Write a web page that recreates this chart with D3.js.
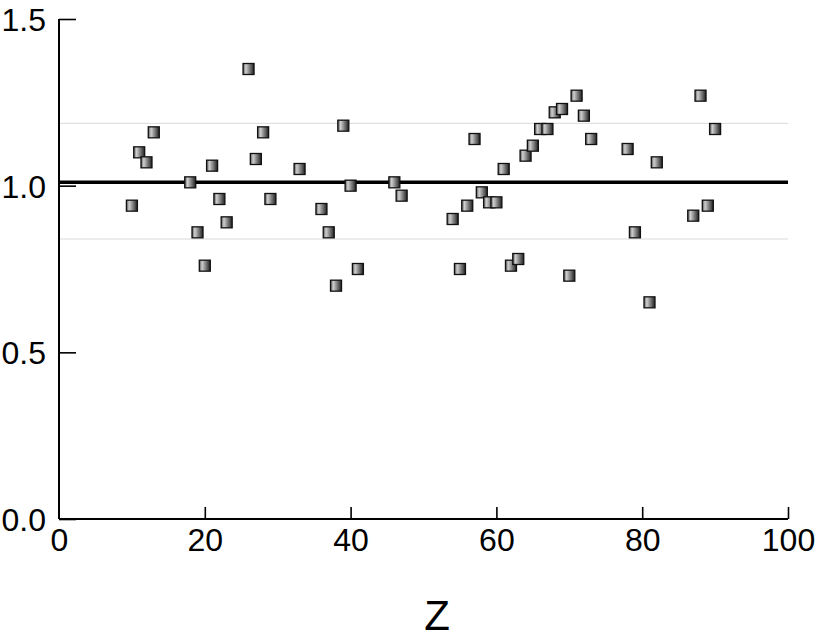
<!DOCTYPE html>
<html>
<head>
<meta charset="utf-8">
<script src="https://cdn.jsdelivr.net/npm/d3@7"></script>
<style>
  html, body { margin: 0; padding: 0; background: #fff; }
  svg { display: block; font-family: "Liberation Sans", Arial, sans-serif; }
</style>
</head>
<body>
<svg id="chart" width="817" height="639"></svg>
<script>
// Data
const zValues = [10, 11, 12, 13, 18, 19, 20, 21, 22, 23, 26, 27, 28, 29, 33, 36, 37, 38, 39, 40,
                 41, 46, 47, 54, 55, 56, 57, 58, 59, 60, 61, 62, 63, 64, 65, 66, 67, 68, 69, 70,
                 71, 72, 73, 78, 79, 81, 82, 87, 88, 89, 90];
const ratioValues = [0.94, 1.10, 1.07, 1.16, 1.01, 0.86, 0.76, 1.06, 0.96, 0.89, 1.35, 1.08, 1.16, 0.96, 1.05, 0.93, 0.86, 0.70, 1.18, 1.00,
                     0.75, 1.01, 0.97, 0.90, 0.75, 0.94, 1.14, 0.98, 0.95, 0.95, 1.05, 0.76, 0.78, 1.09, 1.12, 1.17, 1.17, 1.22, 1.23, 0.73,
                     1.27, 1.21, 1.14, 1.11, 0.86, 0.65, 1.07, 0.91, 1.27, 0.94, 1.17];
const meanValue = 1.01;
const bandValues = [0.84, 1.187];
const xTicks = [0, 20, 40, 60, 80, 100];
const yTicks = [0.0, 0.5, 1.0, 1.5];
const xTitle = 'Z';

const svg = d3.select('#chart');
const margin = { left: 59, right: 29, top: 19, bottom: 120 };
const width = 817, height = 639;

const x = d3.scaleLinear().domain([0, 100]).range([margin.left, width - margin.right]);
const y = d3.scaleLinear().domain([0, 1.5]).range([height - margin.bottom, margin.top]);

// marker gradient
const defs = svg.append('defs');
const grad = defs.append('linearGradient').attr('id', 'markerFill')
    .attr('x1', '0%').attr('x2', '100%').attr('y1', '0%').attr('y2', '0%');
grad.append('stop').attr('offset', '0%').attr('stop-color', '#555');
grad.append('stop').attr('offset', '25%').attr('stop-color', '#cfcfcf');
grad.append('stop').attr('offset', '100%').attr('stop-color', '#202020');

// light band lines
svg.append('g').selectAll('line')
    .data(bandValues)
    .join('line')
    .attr('x1', x(0)).attr('x2', x(100))
    .attr('y1', d => y(d)).attr('y2', d => y(d))
    .attr('stroke', '#d9d9d9')
    .attr('stroke-width', 1);

// axes
const xAxis = d3.axisBottom(x).tickValues(xTicks).tickSize(-12).tickPadding(20).tickFormat(d3.format('d'));
const yAxis = d3.axisLeft(y).tickValues(yTicks).tickSize(-17).tickPadding(32).tickFormat(d3.format('.1f'));

const gx = svg.append('g').attr('transform', `translate(0,${y(0)})`).call(xAxis);
const gy = svg.append('g').attr('transform', `translate(${x(0)},0)`).call(yAxis);

[gx, gy].forEach(g => {
    g.select('.domain').attr('stroke', '#000').attr('stroke-width', 2);
    g.selectAll('.tick line').attr('stroke', '#000').attr('stroke-width', 1.6);
    g.selectAll('.tick text').attr('fill', '#000').attr('font-size', 32)
        .attr('font-family', '"Liberation Sans", Arial, sans-serif');
});
gx.select('.domain').attr('d', `M${x(0)},0H${x(100)}`);
gy.select('.domain').attr('d', `M0,${y(1.5)}V${y(0)}`);
gx.selectAll('.tick').filter(d => d === 0).select('line').remove();
gx.selectAll('.tick text').attr('dy', '0.71em').attr('y', 9);
gy.selectAll('.tick text').attr('x', -13).attr('dy', '0.36em');

// mean line
svg.append('line')
    .attr('x1', x(0)).attr('x2', x(100))
    .attr('y1', y(meanValue)).attr('y2', y(meanValue))
    .attr('stroke', '#000')
    .attr('stroke-width', 3.5);

// points
const size = 11;
svg.append('g').selectAll('rect')
    .data(zValues.map((z, i) => ({ z, v: ratioValues[i] })))
    .join('rect')
    .attr('x', d => x(d.z) - size / 2)
    .attr('y', d => y(d.v) - size / 2)
    .attr('width', size).attr('height', size)
    .attr('fill', 'url(#markerFill)')
    .attr('stroke', '#111')
    .attr('stroke-width', 1.3);

// x title
svg.append('text')
    .attr('x', 437).attr('y', 630)
    .attr('text-anchor', 'middle')
    .attr('font-size', 42)
    .attr('fill', '#000')
    .text(xTitle);
</script>
</body>
</html>
